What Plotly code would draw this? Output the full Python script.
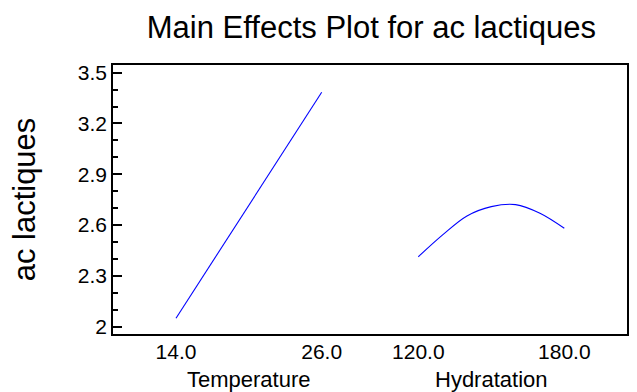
import plotly.graph_objects as go

# Main effect of each factor on "ac lactiques"
temperature = [14, 20, 26]
temperature_effect = [2.05, 2.72, 3.384]

hydratation = [120, 130, 140, 150, 160, 170, 180]
hydratation_effect = [2.413, 2.542, 2.654, 2.709, 2.721, 2.670, 2.581]

y_ticks = [2.0, 2.3, 2.6, 2.9, 3.2, 3.5]
temperature_ticks = [14.0, 26.0]
hydratation_ticks = [120.0, 180.0]

FONT = "Liberation Sans, Arial, sans-serif"
LINE_BLUE = "#0000ff"

fig = go.Figure()
fig.add_trace(go.Scatter(x=temperature, y=temperature_effect, mode="lines",
                         line=dict(color=LINE_BLUE, width=1.1),
                         xaxis="x", yaxis="y", showlegend=False))
fig.add_trace(go.Scatter(x=hydratation, y=hydratation_effect, mode="lines",
                         line=dict(color=LINE_BLUE, width=1.1, shape="spline"),
                         xaxis="x2", yaxis="y", showlegend=False))

y_common = dict(range=[1.951, 3.551], tickvals=y_ticks, ticks="inside",
                ticklen=10, tickwidth=1.5, tickcolor="black",
                minor=dict(dtick=0.1, tick0=2.0, ticks="inside", ticklen=6,
                           tickwidth=1.5, tickcolor="black", showgrid=False),
                showgrid=False, zeroline=False, showline=False)

x_common = dict(tickformat=".1f", ticks="", showgrid=False, zeroline=False,
                showline=False, tickfont=dict(size=21), ticklabelstandoff=2,
                anchor="y")

fig.update_layout(
    width=637, height=392,
    margin=dict(l=112, r=9, t=64, b=57),
    paper_bgcolor="white", plot_bgcolor="white",
    font=dict(family=FONT, color="black"),
    title=dict(text="Main Effects Plot for ac lactiques", x=0.583, xanchor="center",
               y=0.932, yanchor="middle", font=dict(size=31, family=FONT)),
    xaxis=dict(domain=[0, 0.5], range=[8.729, 29.978], tickvals=temperature_ticks,
               **x_common),
    xaxis2=dict(domain=[0.5, 1], range=[100.15, 206.18], tickvals=hydratation_ticks,
                **x_common),
    yaxis=dict(**y_common, side="left", anchor="x", tickfont=dict(size=21),
               ticklabelstandoff=4,
               title=dict(text="ac lactiques", font=dict(size=31), standoff=32)),
    yaxis2=dict(**y_common, side="right", anchor="x2", overlaying="y",
                showticklabels=False),
)

# factor names centred under each factor's span
for name, xs, xref in [("Temperature", temperature, "x"),
                       ("Hydratation", hydratation, "x2")]:
    fig.add_annotation(text=name, xref=xref, x=(min(xs) + max(xs)) / 2,
                       yref="paper", y=0, yanchor="middle", yshift=-44,
                       showarrow=False, font=dict(size=22, family=FONT))

# plot frame around both panels
fig.add_shape(type="rect", xref="paper", yref="paper", x0=0, x1=1, y0=0, y1=1,
              line=dict(color="black", width=2), fillcolor="rgba(0,0,0,0)")

fig.write_html("out.html")
